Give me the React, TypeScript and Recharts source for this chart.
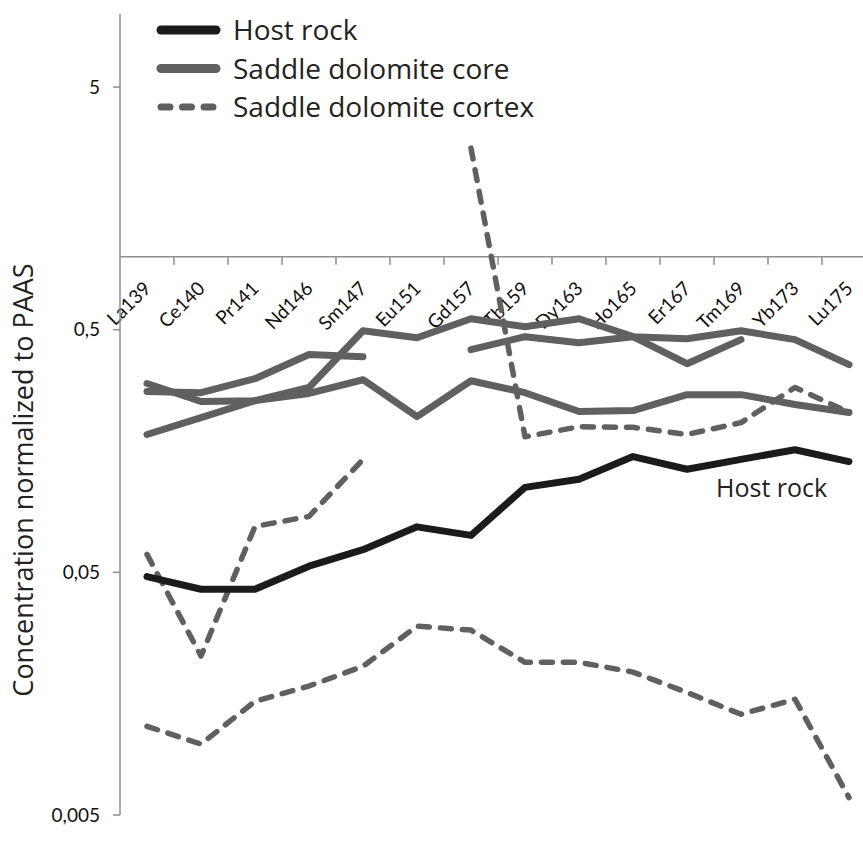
import { LineChart, Line, XAxis, YAxis, ReferenceLine, Legend } from 'recharts'

const categories = ['La139', 'Ce140', 'Pr141', 'Nd146', 'Sm147', 'Eu151', 'Gd157', 'Tb159', 'Dy163', 'Ho165', 'Er167', 'Tm169', 'Yb173', 'Lu175']

const hostRock = [0.048, 0.0426, 0.0426, 0.053, 0.062, 0.077, 0.071, 0.112, 0.121, 0.15, 0.133, 0.146, 0.16, 0.143]

const coreA = [0.3, 0.253, 0.255, 0.289, 0.495, 0.463, 0.555, 0.514, 0.555, 0.468, 0.459, 0.495, 0.455, 0.359]
const coreB = [0.278, 0.275, 0.314, 0.395, 0.387, null, null, null, null, null, null, null, null, null]
const coreC = [null, null, null, null, null, null, 0.414, 0.468, 0.442, 0.468, 0.362, 0.455, null, null]
const coreD = [0.185, 0.217, 0.255, 0.273, 0.311, 0.219, 0.308, 0.275, 0.23, 0.232, 0.27, 0.27, 0.246, 0.228]

const cortexA = [0.0593, 0.0226, 0.0773, 0.085, 0.146, null, null, null, null, null, null, null, null, null]
const cortexB = [0.0116, 0.0098, 0.0147, 0.017, 0.0205, 0.03, 0.0289, 0.0213, 0.0213, 0.0194, 0.016, 0.013, 0.015, 0.0059]
const cortexC = [null, null, null, null, null, null, 2.8, 0.181, 0.199, 0.198, 0.185, 0.207, 0.289, 0.228]

const yTicks = [0.005, 0.05, 0.5, 5]

const data = categories.map((cat, i) => ({
  cat,
  hostRock: hostRock[i],
  coreA: coreA[i],
  coreB: coreB[i],
  coreC: coreC[i],
  coreD: coreD[i],
  cortexA: cortexA[i],
  cortexB: cortexB[i],
  cortexC: cortexC[i],
}))

const BLACK = '#1b1b1b'
const GREY = '#606060'
const AXIS = '#8e8e8e'
const TEXT_FONT = '"Open Sans", sans-serif'
const TICK_FONT = 'Lato, sans-serif'

const legendItems = [
  { name: 'Host rock', color: BLACK, dashed: false },
  { name: 'Saddle dolomite core', color: GREY, dashed: false },
  { name: 'Saddle dolomite cortex', color: GREY, dashed: true },
]

// category ticks + rotated labels, drawn along the y = 1 line
const CategoryAxis = (props: any) => {
  const { x, y, width } = props.viewBox
  const band = width / categories.length
  return (
    <g>
      {categories.map((c, i) => (
        <line key={'t' + c} x1={x + (i + 1) * band} x2={x + (i + 1) * band} y1={y} y2={y + 8} stroke={AXIS} strokeWidth={1.5} />
      ))}
      {categories.map((c, i) => {
        const cx = x + (i + 0.5) * band + 5
        const cy = y + 33
        return (
          <text key={c} x={cx} y={cy} textAnchor="end" transform={`rotate(-45, ${cx}, ${cy})`} fontSize={19} fontFamily={TICK_FONT} fill="#111">
            {c}
          </text>
        )
      })}
    </g>
  )
}

const YTitle = () => (
  <text x={33} y={480} textAnchor="middle" transform="rotate(-90, 33, 480)" fontSize={27} fontFamily={TEXT_FONT} fill="#222">
    Concentration normalized to PAAS
  </text>
)

const LegendBox = () => (
  <svg width={600} height={125}>
    {legendItems.map((it, i) => {
      const ly = 30 + i * 38.5
      return (
        <g key={it.name}>
          <line
            x1={161}
            x2={216}
            y1={ly}
            y2={ly}
            stroke={it.color}
            strokeWidth={it.dashed ? 7 : 9}
            strokeLinecap="round"
            strokeDasharray={it.dashed ? '9 12.5' : undefined}
          />
          <text x={233} y={ly + 10} fontSize={28} fontFamily={TEXT_FONT} fill="#222">
            {it.name}
          </text>
        </g>
      )
    })}
  </svg>
)

const App = () => {
  return (
    <div style={{ position: 'absolute', left: 0, top: 0, width: 863, height: 849, overflow: 'hidden', background: '#fff' }}>
      <LineChart width={876} height={849} data={data} margin={{ top: 14, right: 0, bottom: 34, left: 0 }}>
        <XAxis dataKey="cat" hide padding={{ left: 27, right: 27 }} />
        <YAxis
          type="number"
          scale="log"
          domain={[0.005, 10]}
          ticks={yTicks}
          allowDataOverflow
          width={120}
          tickSize={7}
          tickMargin={13}
          stroke={AXIS}
          strokeWidth={1.5}
          tick={{ fontSize: 19, fontFamily: TICK_FONT, fill: '#111' }}
          tickFormatter={(v: number) => String(v).replace('.', ',')}
          label={<YTitle />}
        />
        <ReferenceLine y={1} stroke={AXIS} strokeWidth={1.5} label={<CategoryAxis />} />
        <Legend
          layout="vertical"
          align="center"
          verticalAlign="middle"
          wrapperStyle={{ left: 0, top: 0, width: 600, height: 125 }}
          content={<LegendBox />}
        />
        <Line dataKey="coreA" stroke={GREY} strokeWidth={7} dot={false} strokeLinecap="round" strokeLinejoin="round" isAnimationActive={false} />
        <Line dataKey="coreB" stroke={GREY} strokeWidth={7} dot={false} strokeLinecap="round" strokeLinejoin="round" isAnimationActive={false} />
        <Line dataKey="coreC" stroke={GREY} strokeWidth={7} dot={false} strokeLinecap="round" strokeLinejoin="round" isAnimationActive={false} />
        <Line dataKey="coreD" stroke={GREY} strokeWidth={7} dot={false} strokeLinecap="round" strokeLinejoin="round" isAnimationActive={false} />
        <Line dataKey="cortexA" stroke={GREY} strokeWidth={5.5} strokeDasharray="11 11" dot={false} strokeLinecap="round" strokeLinejoin="round" isAnimationActive={false} />
        <Line dataKey="cortexB" stroke={GREY} strokeWidth={5.5} strokeDasharray="11 11" dot={false} strokeLinecap="round" strokeLinejoin="round" isAnimationActive={false} />
        <Line dataKey="cortexC" stroke={GREY} strokeWidth={5.5} strokeDasharray="11 11" dot={false} strokeLinecap="round" strokeLinejoin="round" isAnimationActive={false} />
        <Line dataKey="hostRock" stroke={BLACK} strokeWidth={7} dot={false} strokeLinecap="round" strokeLinejoin="round" isAnimationActive={false} />
      </LineChart>
      <div style={{ position: 'absolute', left: 716, top: 470, fontSize: 25, fontFamily: TEXT_FONT, color: '#222', whiteSpace: 'nowrap' }}>
        Host rock
      </div>
    </div>
  )
}

export default App
